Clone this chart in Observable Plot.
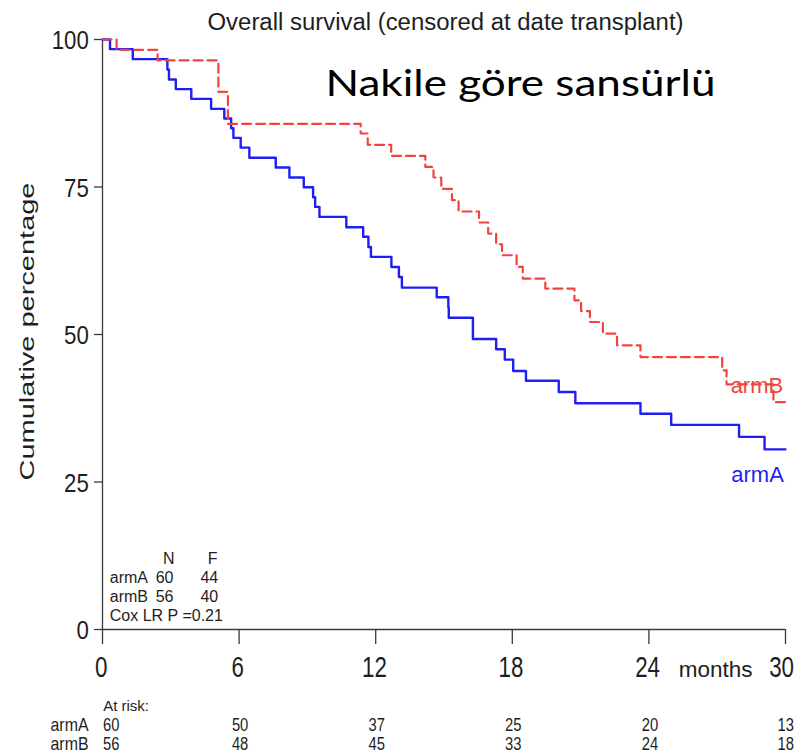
<!DOCTYPE html>
<html><head><meta charset="utf-8">
<script src="https://cdn.jsdelivr.net/npm/d3@7"></script>
<script src="https://cdn.jsdelivr.net/npm/@observablehq/plot@0.6"></script>
<style>html,body{margin:0;padding:0;background:#fff;} #chart svg{display:block;}</style>
</head><body><div id="chart"></div>
<script>
// ---- data ----
const titleText = "Overall survival (censored at date transplant)";
const subtitleText = "Nakile göre sansürlü";
const yLabelText = "Cumulative percentage";
const xUnitText = "months";
const xTicks = [0, 6, 12, 18, 24, 30];
const yTicks = [0, 25, 50, 75, 100];

const timeA = [0, 0.33, 1.33, 2.85, 2.92, 3.22, 3.90, 4.77, 5.35, 5.65, 5.75, 6.07, 6.45, 7.61, 8.21, 8.84, 9.25, 9.34, 9.53, 10.71, 11.45, 11.68, 11.79, 12.69, 13.02, 13.15, 14.68, 15.19, 15.21, 16.27, 17.29, 17.67, 18.04, 18.6, 20.04, 20.77, 23.63, 24.98, 27.96, 29.08, 30];
const survA = [100, 98.37, 96.67, 94.9, 93.23, 91.59, 89.94, 88.25, 86.62, 84.97, 83.33, 81.67, 79.97, 78.31, 76.61, 74.97, 73.27, 71.63, 69.93, 68.18, 66.57, 64.84, 63.15, 61.45, 59.75, 57.95, 56.31, 54.6, 52.83, 49.24, 47.49, 45.74, 43.81, 42.15, 40.25, 38.36, 36.58, 34.68, 32.65, 30.53, 30.53];

const timeB = [0, 0.62, 2.42, 5.09, 5.51, 11.34, 11.65, 12.68, 14.18, 14.54, 14.88, 15.35, 15.64, 16.54, 16.94, 17.29, 17.55, 18.19, 18.46, 19.45, 20.73, 21.02, 21.41, 21.98, 22.60, 23.63, 27.22, 27.41, 29.47, 30];
const survB = [100, 98.25, 96.45, 91.13, 85.70, 84.07, 82.14, 80.26, 78.41, 76.61, 74.68, 72.76, 70.85, 68.98, 67.11, 65.30, 63.43, 61.45, 59.48, 57.78, 55.80, 53.97, 52.12, 50.15, 48.17, 46.18, 43.93, 41.55, 38.55, 38.55];

const arms = ["armA", "armB"];
const armN = [60, 56];
const armF = [44, 40];
const coxText = "Cox LR P =0.21";
const atRiskText = "At risk:";
const riskTimes = [0, 6, 12, 18, 24, 30];
const riskA = [60, 50, 37, 25, 20, 13];
const riskB = [56, 48, 45, 33, 24, 18];

const colA = "#1f1ff5", colB = "#f0453f", axisCol = "#3a3a3a", txtCol = "#1e1e1e";

// ---- build ----
const W = 798, H = 756, mL = 102, mR = 13, mT = 39, mB = 127;
const frameW = W - mL - mR, frameH = H - mT - mB;
const curveA = timeA.map((t, i) => ({t, s: survA[i]}));
const curveB = timeB.map((t, i) => ({t, s: survB[i]}));
const sans = "Liberation Sans, Arial, sans-serif";
const xMax = xTicks[xTicks.length - 1];

// distinct font sizes double as selectors for the post-render width fitting
const FS = {xtick: 29, ytick: 25, title: 23.5, subtitle: 37, ylabel: 20.5, riskNum: 18, riskArm: 17.9};

const legendRows = arms.flatMap((a, i) => [
  Plot.text([a], {text: d => d, frameAnchor: "bottom-left", textAnchor: "start", lineAnchor: "bottom", dx: 7.3, dy: -46.7 + i * 18.7, fontSize: 16, fill: txtCol}),
  Plot.text([armN[i]], {text: d => String(d), frameAnchor: "bottom-left", textAnchor: "end", lineAnchor: "bottom", dx: 71, dy: -46.7 + i * 18.7, fontSize: 16, fill: txtCol}),
  Plot.text([armF[i]], {text: d => String(d), frameAnchor: "bottom-left", textAnchor: "end", lineAnchor: "bottom", dx: 115.7, dy: -46.7 + i * 18.7, fontSize: 16, fill: txtCol})
]);

const riskRows = [riskA, riskB].flatMap((vals, r) => {
  const rows = riskTimes.map((t, i) => ({t, v: vals[i]}));
  const dy = 101.7 + r * 18.6;
  return [
    Plot.text([arms[r]], {text: d => d, frameAnchor: "bottom-left", textAnchor: "start", lineAnchor: "bottom", dx: -52, dy, fontSize: FS.riskArm, fill: txtCol}),
    Plot.text(rows.filter(d => d.t === 0), {x: "t", text: d => String(d.v), frameAnchor: "bottom", textAnchor: "start", lineAnchor: "bottom", dx: 0.5, dy, fontSize: FS.riskNum, fill: txtCol}),
    Plot.text(rows.filter(d => d.t !== 0 && d.t !== xMax), {x: "t", text: d => String(d.v), frameAnchor: "bottom", textAnchor: "middle", lineAnchor: "bottom", dx: 1, dy, fontSize: FS.riskNum, fill: txtCol}),
    Plot.text(rows.filter(d => d.t === xMax), {x: "t", text: d => String(d.v), frameAnchor: "bottom", textAnchor: "end", lineAnchor: "bottom", dx: 8.5, dy, fontSize: FS.riskNum, fill: txtCol})
  ];
});

const chart = Plot.plot({
  width: W, height: H,
  marginLeft: mL, marginRight: mR, marginTop: mT, marginBottom: mB,
  style: {fontFamily: sans, fontSize: "16px", background: "#fff", color: txtCol, overflow: "visible"},
  x: {domain: [0, 30], axis: null},
  y: {domain: [0, 100], axis: null},
  marks: [
    // axes
    Plot.ruleX([0], {stroke: axisCol, strokeWidth: 1.3}),
    Plot.ruleY([0], {stroke: axisCol, strokeWidth: 1.3}),
    Plot.ruleY(yTicks, {y: d => d, insetLeft: -8, insetRight: frameW, stroke: axisCol, strokeWidth: 1.3}),
    Plot.ruleX(xTicks, {x: d => d, insetTop: frameH, insetBottom: -15, stroke: axisCol, strokeWidth: 1.3}),
    Plot.text(yTicks, {y: d => d, text: d => String(d), frameAnchor: "left", textAnchor: "end", dx: -13.7, dy: 1.5, fontSize: FS.ytick, fill: txtCol}),
    Plot.text(xTicks.filter(d => d !== xMax), {x: d => d, text: d => String(d), frameAnchor: "bottom", textAnchor: "middle", lineAnchor: "bottom", dx: -1.3, dy: 47.7, fontSize: FS.xtick, fill: txtCol}),
    Plot.text(xTicks.filter(d => d === xMax), {x: d => d, text: d => String(d), frameAnchor: "bottom", textAnchor: "end", lineAnchor: "bottom", dx: 8.5, dy: 47.7, fontSize: FS.xtick, fill: txtCol}),
    Plot.text([xUnitText], {text: d => d, frameAnchor: "bottom-right", textAnchor: "end", lineAnchor: "bottom", dx: -33, dy: 47.7, fontSize: 22.5, fill: txtCol}),
    // titles
    Plot.text([titleText], {text: d => d, frameAnchor: "top", textAnchor: "middle", lineAnchor: "bottom", dx: 1.5, dy: -9.7, fontSize: FS.title, fill: txtCol}),
    Plot.text([subtitleText], {text: d => d, frameAnchor: "top-left", textAnchor: "start", lineAnchor: "bottom", dx: 223, dy: 56, fontSize: FS.subtitle, fontFamily: "Lato, 'Open Sans', sans-serif", fill: "#000"}),
    Plot.text([yLabelText], {text: d => d, frameAnchor: "left", textAnchor: "middle", rotate: -90, lineAnchor: "middle", dx: -75, dy: -3, fontSize: FS.ylabel, fill: txtCol}),
    // N / F legend block
    Plot.text(["N"], {text: d => d, frameAnchor: "bottom-left", textAnchor: "end", lineAnchor: "bottom", dx: 72, dy: -65.7, fontSize: 16, fill: txtCol}),
    Plot.text(["F"], {text: d => d, frameAnchor: "bottom-left", textAnchor: "end", lineAnchor: "bottom", dx: 115, dy: -65.7, fontSize: 16, fill: txtCol}),
    ...legendRows,
    Plot.text([coxText], {text: d => d, frameAnchor: "bottom-left", textAnchor: "start", lineAnchor: "bottom", dx: 7.3, dy: -9, fontSize: 16, fill: txtCol}),
    // at-risk table
    Plot.text([atRiskText], {text: d => d, frameAnchor: "bottom-left", textAnchor: "start", lineAnchor: "bottom", dx: 0.7, dy: 81, fontSize: 15, fill: txtCol}),
    ...riskRows,
    // end labels
    Plot.text([curveB[curveB.length - 1]], {x: "t", y: "s", text: () => "armB", textAnchor: "end", lineAnchor: "bottom", dx: -2.3, dy: -8.7, fontSize: 22, fill: colB}),
    Plot.text([curveA[curveA.length - 1]], {x: "t", y: "s", text: () => "armA", textAnchor: "end", lineAnchor: "bottom", dx: -1.7, dy: 32.7, fontSize: 22, fill: colA}),
    // survival curves
    Plot.line(curveA, {x: "t", y: "s", curve: "step-after", stroke: colA, strokeWidth: 2.4}),
    Plot.line(curveB, {x: "t", y: "s", curve: "step-after", stroke: colB, strokeWidth: 2.2, strokeDasharray: "9,5"})
  ]
});

document.getElementById("chart").appendChild(chart);

function fit(fontSize, opts) {
  chart.querySelectorAll(`g[font-size="${fontSize}"] text`).forEach(t => {
    const L = t.getComputedTextLength();
    const target = opts.length != null ? opts.length : L * opts.factor;
    t.setAttribute("textLength", target);
    t.setAttribute("lengthAdjust", "spacingAndGlyphs");
  });
}
fit(FS.ytick, {factor: 0.89});
fit(FS.xtick, {factor: 0.77});
fit(FS.title, {length: 476});
fit(FS.subtitle, {length: 390});
fit(FS.ylabel, {length: 298});
fit(FS.riskNum, {factor: 0.82});
fit(FS.riskArm, {factor: 0.89});
</script>
</body></html>
